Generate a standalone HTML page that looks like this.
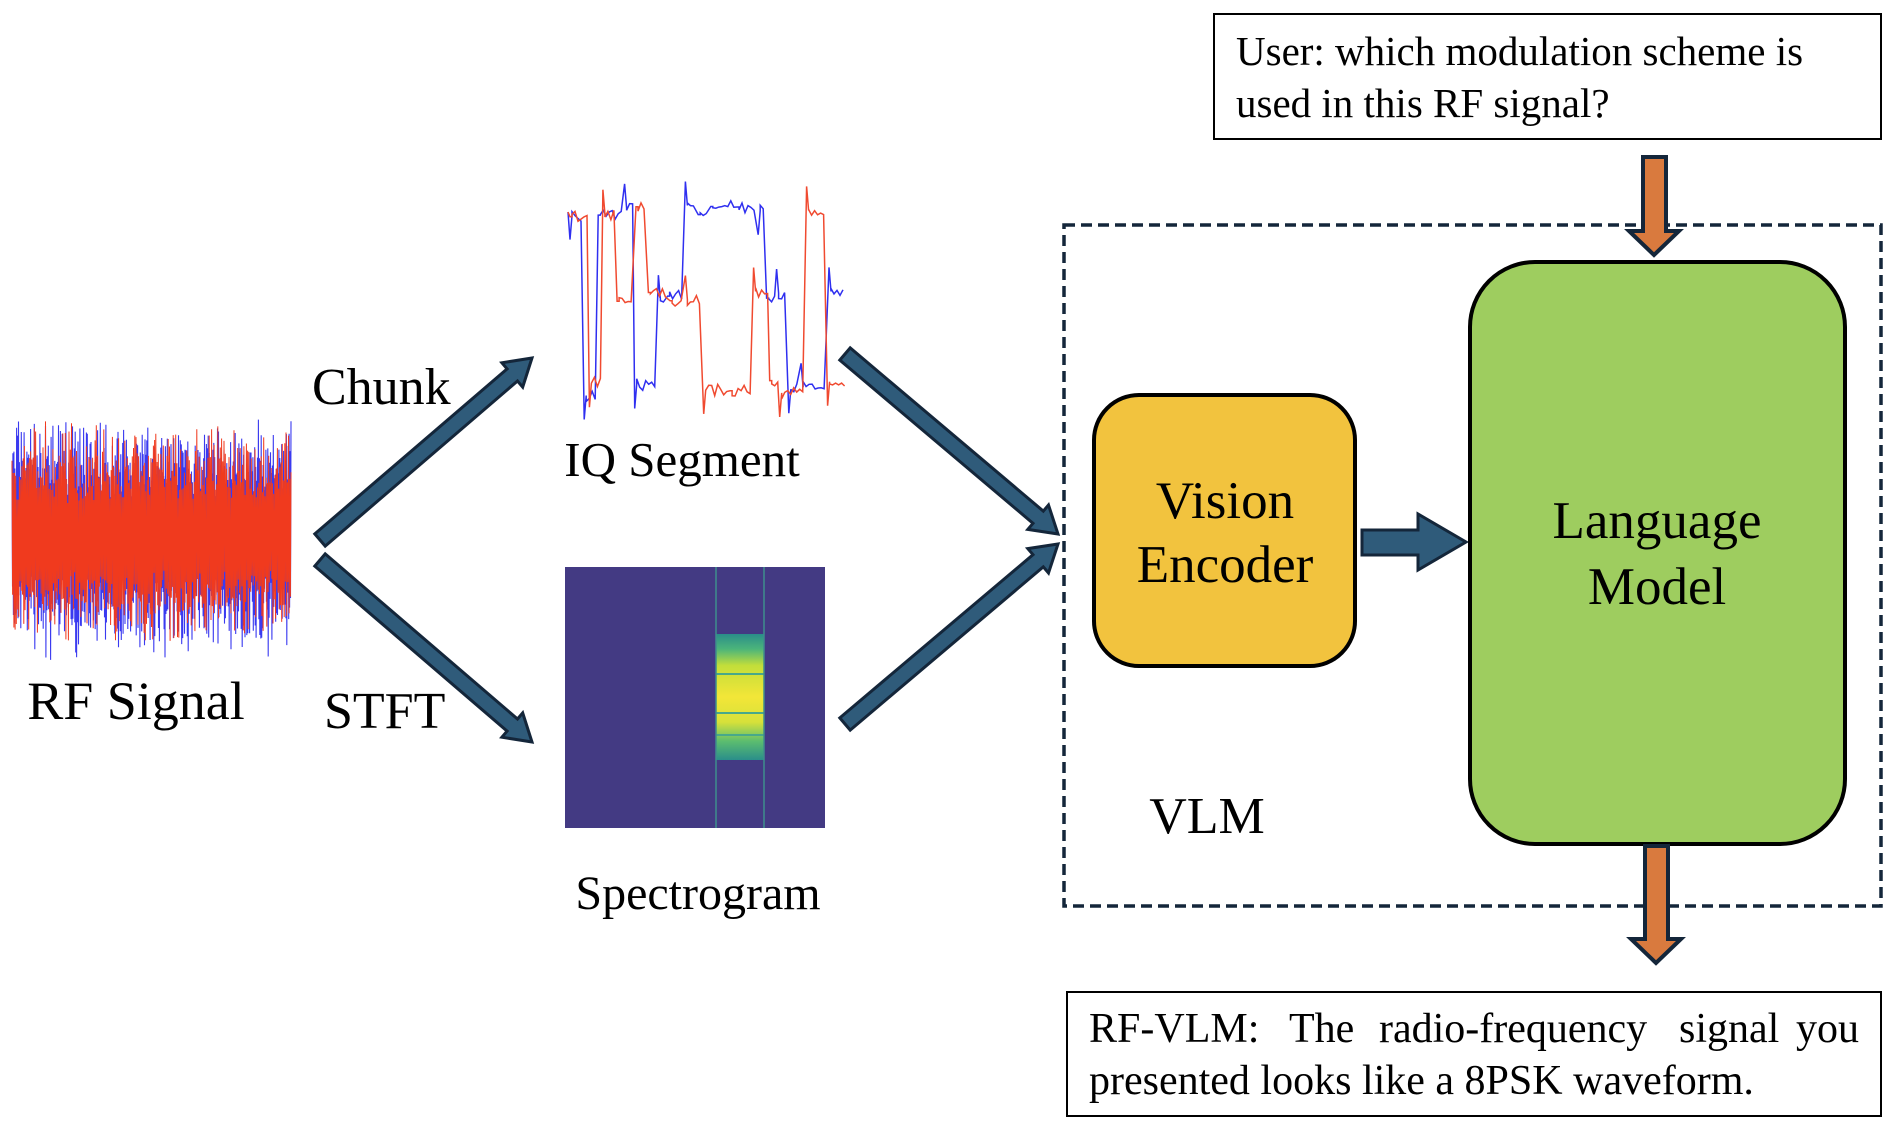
<!DOCTYPE html>
<html><head><meta charset="utf-8"><style>
html,body{margin:0;padding:0;background:#fff;}
svg{display:block;}
text{font-family:"Liberation Serif",serif;fill:#000;}
</style></head><body>
<svg id="s" width="1892" height="1122" viewBox="0 0 1892 1122" xmlns="http://www.w3.org/2000/svg">
<rect width="1892" height="1122" fill="#fff"/>
<g id="rf"></g>
<g id="iq"></g>
<rect x="565" y="567" width="260" height="261" fill="#433a83"/>
<defs>
<linearGradient id="band" x1="0" y1="0" x2="0" y2="1">
<stop offset="0" stop-color="#2a8e8a"/>
<stop offset="0.12" stop-color="#4cb57a"/>
<stop offset="0.25" stop-color="#c2de3a"/>
<stop offset="0.5" stop-color="#f3e638"/>
<stop offset="0.7" stop-color="#d6e13a"/>
<stop offset="0.85" stop-color="#5cbd6f"/>
<stop offset="1" stop-color="#2a8e8a"/>
</linearGradient>
</defs>
<rect x="716" y="634" width="48" height="126" fill="url(#band)"/>
<g stroke="#48a88a" stroke-width="2">
<line x1="716" y1="674" x2="764" y2="674"/><line x1="716" y1="713" x2="764" y2="713"/><line x1="716" y1="735" x2="764" y2="735"/>
</g>
<line x1="716" y1="567" x2="716" y2="828" stroke="#3e8e8c" stroke-width="1.5"/>
<line x1="764" y1="567" x2="764" y2="828" stroke="#3e8e8c" stroke-width="1.5"/>

<g fill="#2f5b7a" stroke="#14263a" stroke-width="3" stroke-linejoin="miter">
<polygon id="a1"/><polygon id="a2"/><polygon id="a3"/><polygon id="a4"/>
</g>
<polygon points="1362,530 1418,530 1418,514 1466,542 1418,570 1418,555 1362,555" fill="#2f5b7a" stroke="#14263a" stroke-width="3"/>

<rect x="1064" y="225" width="817" height="681" fill="none" stroke="#14263a" stroke-width="3.5" stroke-dasharray="11,6"/>

<rect x="1094" y="395" width="261" height="271" rx="45" fill="#f2c33e" stroke="#000" stroke-width="4"/>
<text x="1225" y="518" font-size="53" text-anchor="middle">Vision</text>
<text x="1225" y="582" font-size="53" text-anchor="middle">Encoder</text>

<rect x="1470" y="262" width="375" height="582" rx="65" fill="#9ecd5f" stroke="#000" stroke-width="4"/>
<text x="1657" y="538" font-size="53" text-anchor="middle">Language</text>
<text x="1657" y="604" font-size="53" text-anchor="middle">Model</text>

<polygon points="1643,157 1666,157 1666,231 1679,231 1654,255 1629,231 1643,231" fill="#d97a3e" stroke="#14263a" stroke-width="4"/>
<polygon points="1645,846 1668,846 1668,939 1681,939 1656,963 1631,939 1645,939" fill="#d97a3e" stroke="#14263a" stroke-width="4"/>

<rect x="1214" y="14" width="667" height="125" fill="#fff" stroke="#000" stroke-width="2"/>
<text x="1236" y="65" font-size="41">User: which modulation scheme is</text>
<text x="1236" y="117" font-size="41">used in this RF signal?</text>

<rect x="1067" y="992" width="814" height="124" fill="#fff" stroke="#000" stroke-width="2"/>
<g font-size="42">
<text x="1089" y="1042">RF-VLM:</text>
<text x="1289" y="1042">The</text>
<text x="1379" y="1042">radio-frequency</text>
<text x="1679" y="1042">signal</text>
<text x="1859" y="1042" text-anchor="end">you</text>
</g>
<text x="1089" y="1094" font-size="42">presented looks like a 8PSK waveform.</text>

<text x="136" y="719" font-size="54" text-anchor="middle">RF Signal</text>
<text x="312" y="404" font-size="52">Chunk</text>
<text x="324" y="728" font-size="52">STFT</text>
<text x="682" y="476" font-size="49" text-anchor="middle">IQ Segment</text>
<text x="698" y="909" font-size="48" text-anchor="middle">Spectrogram</text>
<text x="1207" y="833" font-size="52" text-anchor="middle">VLM</text>
</svg>
<script>
(function(){
var ns="http://www.w3.org/2000/svg";
var seed=7;function r(){seed=(seed*16807)%2147483647;return seed/2147483647;}
function arrow(id,x1,y1,x2,y2){
 var dx=x2-x1,dy=y2-y1,L=Math.sqrt(dx*dx+dy*dy),ux=dx/L,uy=dy/L,px=-uy,py=ux;
 var w=8,hw=16,hl=26;var bx=x2-ux*hl,by=y2-uy*hl;
 var p=[[x1+px*w,y1+py*w],[bx+px*w,by+py*w],[bx+px*hw,by+py*hw],[x2,y2],[bx-px*hw,by-py*hw],[bx-px*w,by-py*w],[x1-px*w,y1-py*w]];
 document.getElementById(id).setAttribute("points",p.map(function(q){return q[0].toFixed(1)+","+q[1].toFixed(1)}).join(" "));
}
arrow("a1",320,540,532,358);
arrow("a2",320,560,532,742);
arrow("a3",845,354,1058,534);
arrow("a4",845,724,1058,544);
var g=document.getElementById("rf");
function wave(col,x0,x1,yc,amp,n,sw){var d="";for(var i=0;i<=n;i++){var x=x0+(x1-x0)*i/n;var a=amp*(0.6+0.4*r());var y=yc+(i%2?1:-1)*a*(0.45+0.55*r());d+=(i?"L":"M")+x.toFixed(1)+","+y.toFixed(1);}var p=document.createElementNS(ns,"path");p.setAttribute("d",d);p.setAttribute("stroke",col);p.setAttribute("stroke-width",sw);p.setAttribute("fill","none");g.appendChild(p);}
wave("#3a3af0",12,291,536,125,600,"1.1");
wave("#f03a1e",12,291,536,115,450,"1");
g=document.getElementById("iq");
function iq(col){var lv=[212,297,388];var x=568,y=lv[Math.floor(r()*3)];var d="M"+x+","+y;
 while(x<832){var seg=6+r()*22;var ny=lv[Math.floor(r()*3)]+(r()*2-1)*8;var ov=(r()<0.6)?(ny>y?24:-24):0;
  d+="L"+(x+2).toFixed(1)+","+(ny+ov).toFixed(1)+"L"+(x+4).toFixed(1)+","+ny.toFixed(1);
  for(var k=4;k<seg;k+=3){d+="L"+(x+k).toFixed(1)+","+(ny+(r()*2-1)*6).toFixed(1);}x+=seg;y=ny;}
 var p=document.createElementNS(ns,"path");p.setAttribute("d",d);p.setAttribute("stroke",col);p.setAttribute("stroke-width","1.5");p.setAttribute("fill","none");g.appendChild(p);}
iq("#2f2ff0");iq("#f04a30");
})();
</script>
</body></html>
